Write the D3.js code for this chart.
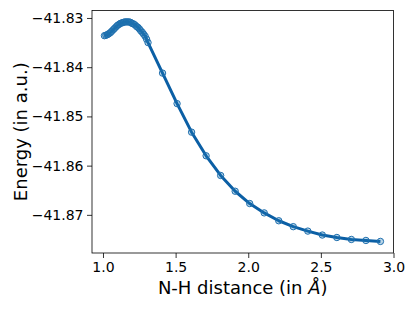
<!DOCTYPE html>
<html><head><meta charset="utf-8">
<script src="https://cdn.jsdelivr.net/npm/d3@7"></script>
<style>body{margin:0;background:#fff}svg{display:block}text{font-family:"DejaVu Sans",sans-serif;fill:#000}</style>
</head><body><svg id="c" width="415" height="311"></svg>
<script>
const distances = [1.01,1.02,1.03,1.04,1.05,1.06,1.07,1.08,1.09,1.10,1.11,1.12,1.13,1.14,1.15,1.16,1.17,1.18,1.19,1.20,1.21,1.22,1.23,1.24,1.25,1.26,1.27,1.28,1.29,1.30,1.31,
  1.41,1.51,1.61,1.71,1.81,1.91,2.01,2.11,2.21,2.31,2.41,2.51,2.61,2.71,2.81,2.91];
const energies = [-41.8336,-41.8335,-41.8334,-41.8332,-41.8330,-41.8327,-41.8324,-41.8321,-41.8318,-41.8315,-41.8313,-41.8311,-41.8310,-41.8309,-41.8308,-41.8308,-41.8308,-41.8308,-41.8309,-41.8311,-41.8312,-41.8314,-41.8317,-41.8319,-41.8322,-41.8326,-41.8329,-41.8333,-41.8337,-41.8343,-41.8350,
  -41.8412,-41.8474,-41.8532,-41.8580,-41.8620,-41.8652,-41.8677,-41.8696,-41.8712,-41.8724,-41.8733,-41.8741,-41.8746,-41.8750,-41.8752,-41.8754];
const xTicks = [1.0,1.5,2.0,2.5,3.0];
const yTicks = [-41.83,-41.84,-41.85,-41.86,-41.87];

const L=92, R=393.5, T=10.5, B=253;
const x = d3.scaleLinear().domain([0.9243,3.0]).range([L,R]);
const y = d3.scaleLinear().domain([-41.87775,-41.82848]).range([B,T]);
const svg = d3.select("#c");
const data = distances.map((d,i)=>({x:d,y:energies[i]}));

const xa = svg.append("g").attr("transform",`translate(0,${B})`)
  .call(d3.axisBottom(x).tickValues(xTicks).tickFormat(d3.format(".1f")).tickSizeOuter(0).tickSize(5).tickPadding(4.5));
const ya = svg.append("g").attr("transform",`translate(${L},0)`)
  .call(d3.axisLeft(y).tickValues(yTicks).tickFormat(d=>d3.format(".2f")(d).replace("-","\u2212")).tickSizeOuter(0).tickSize(5).tickPadding(3.5));
[xa,ya].forEach(a=>{a.select(".domain").remove();a.selectAll("line").attr("stroke","#000").attr("stroke-width",0.8);a.selectAll("text").style("font-size","14px");});

svg.append("path").datum(data).attr("fill","none").attr("stroke","#0b5fa5").attr("stroke-width",3).attr("stroke-linejoin","round")
  .attr("d",d3.line().x(d=>x(d.x)).y(d=>y(d.y)));
svg.append("g").selectAll("circle").data(data).join("circle")
  .attr("cx",d=>x(d.x)).attr("cy",d=>y(d.y)).attr("r",3.2)
  .attr("fill","rgba(31,119,180,0.3)").attr("stroke","#1f6fae").attr("stroke-width",1);

svg.append("rect").attr("x",L).attr("y",T).attr("width",R-L).attr("height",B-T).attr("fill","none").attr("stroke","#000").attr("stroke-width",0.8);

const xl = svg.append("text").attr("x",(L+R)/2).attr("y",293.5).attr("text-anchor","middle").style("font-size","18px");
xl.append("tspan").text("N-H distance (in ");
xl.append("tspan").attr("font-style","italic").text("Å");
xl.append("tspan").text(")");
svg.append("text").attr("transform",`translate(26.5,${(T+B)/2}) rotate(-90)`).attr("text-anchor","middle").style("font-size","18px").text("Energy (in a.u.)");
</script></body></html>
